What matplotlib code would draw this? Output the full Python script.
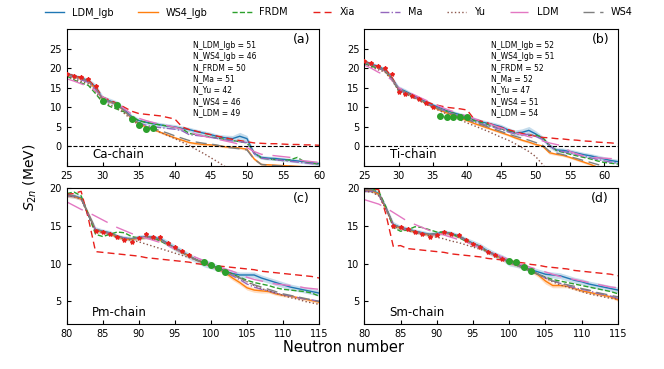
import numpy as np
import matplotlib
matplotlib.use('Agg')
import matplotlib.pyplot as plt

nan = np.nan

# ---------------- Ca chain (panel a) ----------------
ca_n = list(range(25, 61))
ca_ldm_lgb = [18.6, 18.0, 17.5, 16.8, 15.2, 12.2, 11.6, 11.0, 9.4, 7.6,
              6.6, 6.2, 5.8, 5.5, 5.2, 5.0, 4.6, 4.3, 3.8, 3.4,
              3.0, 2.5, 2.2, 2.0, 2.6, 2.0, -1.8, -2.8, -3.0, -3.1,
              -3.3, -3.5, -3.7, -3.9, -4.1, -4.4]
ca_ldm_lgb_err = [0.5, 0.5, 0.5, 0.6, 0.8, 0.8, 0.7, 0.6, 0.6, 0.6,
                  0.6, 0.6, 0.6, 0.6, 0.6, 0.6, 0.6, 0.6, 0.6, 0.6,
                  0.6, 0.6, 0.7, 0.8, 1.0, 0.8, 0.6, 0.5, 0.5, 0.5,
                  0.5, 0.5, 0.5, 0.5, 0.5, 0.5]
ca_ws4_lgb = [18.4, 17.8, 17.3, 16.6, 14.8, 12.0, 11.4, 10.7, 9.0, 7.2,
              5.8, 5.0, 4.4, 3.6, 2.9, 2.2, 1.6, 1.0, 0.7, 0.5,
              0.4, 0.2, -0.1, -0.2, -0.4, -0.7, -3.2, -4.6, -4.7, -4.8,
              -4.9, -5.0, -5.1, -5.2, -5.3, -5.4]
ca_ws4_lgb_err = [0.3, 0.3, 0.3, 0.3, 0.4, 0.4, 0.3, 0.3, 0.3, 0.3,
                  0.3, 0.3, 0.3, 0.3, 0.3, 0.3, 0.3, 0.3, 0.3, 0.3,
                  0.3, 0.3, 0.3, 0.3, 0.3, 0.3, 0.4, 0.3, 0.3, 0.3,
                  0.3, 0.3, 0.3, 0.3, 0.3, 0.3]
ca_frdm = [18.0, 17.0, 16.2, 15.6, 13.5, 11.2, 10.2, 9.5, 8.8, 7.6,
           6.6, 6.1, 5.8, 5.5, 5.2, 4.9, 4.5, 3.3, 3.0, 2.7,
           2.4, 2.1, 1.8, 1.5, 1.2, 0.9, -1.5, -3.0, -3.2, -3.4,
           -3.6, -3.4, -2.8, -4.0, -4.3, -4.5]
ca_xia = [18.6, 18.1, 17.6, 17.0, 15.2, 12.6, 11.8, 11.0, 10.0, 9.0,
          8.4, 8.2, 8.0, 7.8, 7.4, 7.0, 5.0, 4.3, 3.9, 3.4,
          3.0, 2.6, 2.2, 1.8, 1.5, 1.2, 0.9, 0.8, 0.7, 0.7,
          0.6, 0.5, 0.5, 0.4, 0.4, 0.3]
ca_ma = [18.4, 17.7, 17.0, 16.4, 14.6, 12.0, 11.2, 10.6, 9.2, 7.4,
         6.0, 5.4, 5.0, 4.8, 4.6, 4.4, 4.0, 3.0, 2.8, 2.6,
         2.3, 2.0, 1.7, 1.4, 1.2, 1.0, -1.8, -3.0, -3.2, -3.4,
         -3.6, -3.8, -4.0, -4.2, -4.4, -4.6]
ca_yu = [18.0, 17.3, 16.6, 16.0, 14.0, 11.5, 10.6, 9.8, 8.4, 6.8,
         5.5, 4.8, 4.3, 3.6, 2.8, 2.0, 1.1, 0.2, -0.8, -1.8,
         -2.9, -4.0, -5.2, -6.4, nan, nan, nan, nan, nan, nan,
         nan, nan, nan, nan, nan, nan]
ca_ldm = [17.3, 16.7, 16.0, 15.3, 14.2, 12.6, 11.8, 10.9, 9.6, 8.3,
          7.2, 6.6, 6.1, 5.7, 5.3, 4.9, 4.4, 3.6, 3.1, 2.6,
          2.2, 1.8, 1.4, 1.0, 0.5, -0.3, -1.3, -2.0, -2.2, -2.4,
          -2.6, -2.8, -3.4, -3.7, -3.9, -4.1]
ca_ws4 = [18.5, 17.9, 17.4, 16.7, 14.9, 12.1, 11.5, 10.8, 9.1, 7.3,
          6.0, 5.2, 4.6, 4.0, 3.4, 2.7, 2.1, 1.5, 1.1, 0.8,
          0.6, 0.3, -0.2, -0.4, -0.6, -0.9, -3.3, -4.6, -4.8, -4.9,
          -5.0, -5.1, -5.2, -5.3, -5.4, -5.5]
ca_exp_n = [25, 26, 27, 28, 29]
ca_exp = [18.5, 18.0, 17.8, 17.2, 15.4]
ca_new_n = [30, 32, 34, 35, 36, 37]
ca_new = [11.6, 10.7, 7.0, 5.4, 4.5, 4.8]
ca_counts = [51, 46, 50, 51, 42, 46, 49]

# ---------------- Ti chain (panel b) ----------------
ti_n = list(range(25, 63))
ti_ldm_lgb = [21.8, 21.0, 20.5, 19.6, 17.5, 14.9, 14.1, 13.2, 12.3, 11.4,
              10.6, 9.9, 9.2, 8.6, 8.1, 7.6, 6.9, 6.3, 5.9, 5.5,
              5.0, 4.2, 3.5, 3.6, 4.1, 3.2, 2.1, 0.2, -0.9, -1.0,
              -1.3, -1.7, -2.1, -2.4, -2.8, -3.2, -3.6, -3.9]
ti_ldm_lgb_err = [0.5, 0.5, 0.5, 0.5, 0.6, 0.6, 0.6, 0.5, 0.5, 0.5,
                  0.5, 0.5, 0.5, 0.5, 0.5, 0.5, 0.6, 0.6, 0.6, 0.6,
                  0.6, 0.6, 0.7, 0.9, 1.0, 0.8, 0.6, 0.6, 0.6, 0.6,
                  0.6, 0.6, 0.6, 0.6, 0.6, 0.6, 0.6, 0.6]
ti_ws4_lgb = [21.5, 20.8, 20.2, 19.3, 17.2, 14.6, 13.8, 12.9, 12.0, 11.0,
              10.1, 9.3, 8.6, 7.9, 7.3, 6.6, 5.9, 5.3, 4.7, 4.1,
              3.5, 2.9, 2.2, 1.6, 1.1, 0.5, 0.1, -1.6, -2.0, -2.3,
              -2.8, -3.4, -4.0, -4.6, -5.3, -5.9, -6.5, -7.0]
ti_ws4_lgb_err = [0.3, 0.3, 0.3, 0.3, 0.4, 0.4, 0.3, 0.3, 0.3, 0.3,
                  0.3, 0.3, 0.3, 0.3, 0.3, 0.3, 0.3, 0.3, 0.3, 0.3,
                  0.3, 0.3, 0.3, 0.3, 0.3, 0.3, 0.3, 0.4, 0.3, 0.3,
                  0.3, 0.3, 0.3, 0.3, 0.3, 0.3, 0.3, 0.3]
ti_frdm = [21.2, 20.5, 20.0, 19.4, 17.4, 14.2, 13.5, 12.7, 12.0, 11.0,
           10.2, 9.6, 9.0, 8.5, 8.0, 7.5, 6.6, 6.1, 5.6, 5.1,
           4.5, 3.9, 3.4, 3.0, 2.8, 2.9, 2.3, 0.3, -1.0, -1.5,
           -2.0, -2.4, -2.8, -3.2, -3.7, -4.1, -4.3, -4.5]
ti_xia = [21.9, 21.0, 20.4, 20.0, 17.8, 14.5, 13.8, 13.2, 12.3, 11.5,
          10.8, 10.4, 10.0, 9.8, 9.6, 9.3, 7.0, 6.5, 6.0, 5.4,
          4.8, 4.3, 3.8, 3.3, 3.0, 2.6, 2.3, 2.2, 2.0, 1.9,
          1.7, 1.6, 1.4, 1.3, 1.1, 1.0, 0.9, 0.7]
ti_ma = [21.5, 20.8, 20.1, 19.3, 17.2, 14.5, 13.7, 12.9, 12.0, 11.1,
         10.3, 9.6, 8.9, 8.3, 7.7, 7.2, 6.3, 5.8, 5.3, 4.8,
         4.3, 3.7, 3.2, 3.0, 3.1, 2.6, 1.8, 0.2, -1.0, -1.3,
         -1.7, -2.1, -2.5, -2.9, -3.3, -3.7, -4.0, -4.3]
ti_yu = [21.0, 20.3, 19.6, 19.0, 17.0, 14.3, 13.4, 12.6, 11.7, 10.8,
         9.9, 9.1, 8.3, 7.5, 6.8, 6.0, 5.3, 4.6, 3.9, 3.1,
         2.3, 1.6, 0.7, -0.3, -1.3, -2.6, -4.6, -7.0, nan, nan,
         nan, nan, nan, nan, nan, nan, nan, nan]
ti_ldm = [20.8, 20.0, 19.0, 18.2, 17.0, 15.0, 14.2, 13.4, 12.6, 11.8,
          11.0, 10.2, 9.5, 8.9, 8.3, 7.7, 7.1, 6.5, 5.9, 5.3,
          4.7, 4.1, 3.5, 3.0, 2.5, 2.0, 1.4, 0.9, 0.5, 0.1,
          -1.3, -1.9, -2.4, -2.7, -2.9, -3.0, -3.1, -3.2]
ti_ws4 = [21.6, 20.9, 20.3, 19.5, 17.3, 14.7, 13.9, 13.0, 12.1, 11.2,
          10.3, 9.5, 8.8, 8.1, 7.5, 6.9, 6.2, 5.6, 5.0, 4.4,
          3.8, 3.2, 2.6, 2.1, 1.6, 1.0, 0.3, -1.2, -1.7, -2.1,
          -2.6, -3.1, -3.6, -4.1, -4.6, -5.1, -5.6, -6.1]
ti_exp_n = [25, 26, 27, 28, 29, 30, 31, 32, 33, 34, 35]
ti_exp = [21.8, 21.2, 20.5, 20.1, 18.6, 14.0, 13.4, 12.8, 12.0, 11.0, 10.0]
ti_new_n = [36, 37, 38, 39, 40]
ti_new = [7.9, 7.4, 7.5, 7.5, 7.6]
ti_counts = [52, 51, 52, 52, 47, 51, 54]

# ---------------- Pm chain (panel c) ----------------
pm_n = list(range(80, 116))
pm_ldm_lgb = [19.1, 19.0, 18.7, 16.5, 14.5, 14.3, 14.1, 13.6, 13.4, 13.3,
              13.5, 13.6, 13.5, 13.3, 12.7, 12.1, 11.6, 11.0, 10.5, 10.1,
              9.8, 9.4, 9.0, 8.7, 8.5, 8.5, 8.5, 8.1, 7.8, 7.5,
              7.2, 6.9, 6.7, 6.5, 6.3, 6.1]
pm_ldm_lgb_err = [0.3, 0.3, 0.3, 0.4, 0.4, 0.3, 0.3, 0.3, 0.3, 0.3,
                  0.3, 0.3, 0.3, 0.3, 0.4, 0.4, 0.4, 0.4, 0.4, 0.5,
                  0.5, 0.4, 0.4, 0.4, 0.4, 0.4, 0.4, 0.4, 0.4, 0.4,
                  0.4, 0.4, 0.4, 0.4, 0.4, 0.4]
pm_ws4_lgb = [19.0, 18.9, 18.6, 16.6, 14.4, 14.2, 14.0, 13.5, 13.3, 13.2,
              13.4, 13.5, 13.4, 13.1, 12.6, 12.0, 11.5, 11.0, 10.5, 10.1,
              9.7, 9.3, 8.8, 8.1, 7.5, 6.8, 6.5, 6.4, 6.3, 6.0,
              5.8, 5.7, 5.5, 5.3, 5.1, 4.9]
pm_ws4_lgb_err = [0.2, 0.2, 0.2, 0.3, 0.3, 0.2, 0.2, 0.2, 0.2, 0.2,
                  0.2, 0.2, 0.2, 0.2, 0.2, 0.2, 0.2, 0.2, 0.2, 0.2,
                  0.2, 0.2, 0.3, 0.3, 0.3, 0.3, 0.3, 0.3, 0.2, 0.2,
                  0.2, 0.2, 0.2, 0.2, 0.2, 0.2]
pm_frdm = [19.3, 19.5, 19.0, 16.5, 13.9, 13.6, 13.9, 14.2, 14.1, 13.6,
           13.4, 13.5, 13.4, 13.0, 12.5, 12.0, 11.5, 11.0, 10.5, 10.1,
           9.8, 9.4, 9.0, 8.6, 8.2, 7.8, 7.5, 7.3, 7.1, 6.8,
           6.6, 6.5, 6.4, 6.3, 6.1, 5.7]
pm_xia = [19.2, 19.3, 19.6, 16.0, 11.6, 11.5, 11.4, 11.3, 11.2, 11.1,
          11.0, 10.8, 10.7, 10.6, 10.5, 10.4, 10.3, 10.2, 10.0, 9.9,
          9.8, 9.7, 9.6, 9.5, 9.4, 9.3, 9.2, 9.0, 8.9, 8.8,
          8.7, 8.6, 8.5, 8.4, 8.3, 8.1]
pm_ma = [19.0, 18.9, 18.6, 16.5, 14.4, 14.2, 14.0, 13.6, 13.4, 13.3,
         13.4, 13.5, 13.4, 13.1, 12.6, 12.0, 11.5, 11.0, 10.5, 10.1,
         9.7, 9.3, 8.9, 8.4, 7.9, 7.3, 6.9, 6.6, 6.4, 6.1,
         5.9, 5.7, 5.5, 5.3, 5.2, 5.0]
pm_yu = [19.0, 18.9, 18.6, 16.4, 14.3, 14.1, 13.8, 13.5, 13.3, 13.1,
         12.9, 12.6, 12.3, 12.0, 11.7, 11.4, 11.1, 10.8, 10.5, 10.2,
         9.9, 9.5, 9.1, 8.6, 8.1, 7.6, 7.1, 6.7, 6.4, 6.1,
         5.8, 5.5, 5.3, 5.0, 4.8, 4.6]
pm_ldm = [18.2, 17.7, 17.2, 16.8, 16.3, 15.8, 15.3, 14.8, 14.4, 14.0,
          13.7, 13.4, 13.1, 12.8, 12.4, 12.0, 11.6, 11.2, 10.8, 10.4,
          9.9, 9.6, 9.3, 9.0, 8.6, 8.2, 7.9, 7.7, 7.5, 7.3,
          7.2, 7.1, 7.0, 6.8, 6.7, 6.6]
pm_ws4 = [19.1, 19.0, 18.7, 16.6, 14.6, 14.3, 14.1, 13.7, 13.4, 13.3,
          13.5, 13.6, 13.5, 13.2, 12.7, 12.1, 11.6, 11.0, 10.5, 10.1,
          9.7, 9.3, 8.9, 8.5, 8.1, 7.6, 7.2, 6.9, 6.6, 6.3,
          6.0, 5.8, 5.6, 5.4, 5.2, 5.0]
pm_exp_n = [84, 85, 86, 87, 88, 89, 90, 91, 92, 93, 94, 95, 96, 97]
pm_exp = [14.4, 14.2, 14.0, 13.6, 13.2, 12.9, 13.4, 13.9, 13.5, 13.5,
          12.8, 12.2, 11.7, 11.1]
pm_new_n = [99, 100, 101, 102]
pm_new = [10.2, 9.8, 9.4, 8.9]

# ---------------- Sm chain (panel d) ----------------
sm_n = list(range(80, 116))
sm_ldm_lgb = [19.8, 19.8, 19.3, 17.4, 15.2, 14.8, 14.6, 14.3, 14.1, 13.9,
              14.0, 14.2, 14.0, 13.7, 13.2, 12.7, 12.3, 11.7, 11.2, 10.8,
              10.2, 9.9, 9.6, 9.2, 8.9, 8.6, 8.5, 8.4, 8.1, 7.8,
              7.6, 7.3, 7.1, 6.9, 6.7, 6.5]
sm_ldm_lgb_err = [0.3, 0.3, 0.3, 0.4, 0.4, 0.3, 0.3, 0.3, 0.3, 0.3,
                  0.3, 0.3, 0.3, 0.3, 0.3, 0.4, 0.4, 0.4, 0.4, 0.4,
                  0.5, 0.4, 0.4, 0.4, 0.4, 0.4, 0.4, 0.4, 0.4, 0.4,
                  0.4, 0.4, 0.4, 0.4, 0.4, 0.4]
sm_ws4_lgb = [19.7, 19.7, 19.2, 17.3, 15.1, 14.7, 14.5, 14.2, 14.0, 13.8,
              13.9, 14.1, 13.9, 13.6, 13.1, 12.6, 12.2, 11.6, 11.1, 10.7,
              10.1, 9.8, 9.5, 9.1, 8.5, 7.7, 7.1, 7.1, 7.0, 6.7,
              6.4, 6.2, 6.0, 5.8, 5.6, 5.2]
sm_ws4_lgb_err = [0.2, 0.2, 0.2, 0.3, 0.3, 0.2, 0.2, 0.2, 0.2, 0.2,
                  0.2, 0.2, 0.2, 0.2, 0.2, 0.2, 0.2, 0.2, 0.2, 0.2,
                  0.2, 0.2, 0.2, 0.3, 0.3, 0.4, 0.3, 0.3, 0.2, 0.2,
                  0.2, 0.2, 0.2, 0.2, 0.2, 0.2]
sm_frdm = [19.8, 20.0, 19.6, 17.5, 14.8, 14.3, 14.5, 14.9, 14.8, 14.5,
           14.2, 14.2, 14.0, 13.5, 13.0, 12.6, 12.1, 11.6, 11.1, 10.6,
           10.2, 9.8, 9.4, 9.0, 8.6, 8.2, 7.9, 7.7, 7.5, 7.3,
           7.1, 6.9, 6.7, 6.5, 6.3, 6.0]
sm_xia = [19.8, 20.0, 19.8, 16.5, 12.3, 12.4, 12.0, 11.9, 11.8, 11.7,
          11.6, 11.5, 11.3, 11.2, 11.1, 11.0, 10.9, 10.7, 10.6, 10.5,
          10.4, 10.2, 10.1, 9.9, 9.8, 9.6, 9.5, 9.4, 9.3, 9.1,
          9.0, 8.9, 8.8, 8.7, 8.6, 8.4]
sm_ma = [19.6, 19.6, 19.1, 17.3, 15.1, 14.7, 14.5, 14.2, 14.0, 13.8,
         13.9, 14.1, 13.9, 13.6, 13.1, 12.6, 12.2, 11.6, 11.1, 10.7,
         10.1, 9.8, 9.4, 9.0, 8.6, 8.1, 7.7, 7.4, 7.1, 6.8,
         6.6, 6.4, 6.1, 5.9, 5.7, 5.4]
sm_yu = [19.6, 19.5, 19.0, 17.2, 15.0, 14.6, 14.4, 14.1, 13.9, 13.7,
         13.5, 13.3, 13.0, 12.8, 12.5, 12.2, 11.9, 11.6, 11.3, 10.9,
         10.5, 10.1, 9.6, 9.1, 8.6, 8.1, 7.6, 7.2, 6.9, 6.6,
         6.3, 6.0, 5.8, 5.6, 5.4, 5.3]
sm_ldm = [18.5, 18.2, 17.9, 17.4, 16.8, 16.2, 15.6, 15.2, 14.8, 14.4,
          14.1, 13.8, 13.5, 13.2, 12.9, 12.5, 12.1, 11.7, 11.3, 10.9,
          10.5, 10.1, 9.8, 9.5, 9.2, 8.9, 8.6, 8.3, 8.1, 7.9,
          7.7, 7.5, 7.3, 7.1, 6.9, 6.8]
sm_ws4 = [19.8, 19.8, 19.3, 17.4, 15.2, 14.8, 14.6, 14.3, 14.1, 13.9,
          14.0, 14.2, 14.0, 13.7, 13.2, 12.7, 12.3, 11.7, 11.2, 10.8,
          10.2, 9.8, 9.4, 9.0, 8.6, 8.1, 7.7, 7.5, 7.2, 7.0,
          6.7, 6.5, 6.2, 6.0, 5.8, 5.6]
sm_exp_n = [84, 85, 86, 87, 88, 89, 90, 91, 92, 93, 94, 95, 96, 97, 98, 99]
sm_exp = [15.0, 14.9, 14.6, 14.2, 14.0, 13.6, 13.8, 14.2, 13.9, 13.8,
          13.2, 12.6, 12.2, 11.6, 11.2, 10.6]
sm_new_n = [100, 101, 102, 103]
sm_new = [10.4, 10.2, 9.5, 9.0]

labels = ['LDM_lgb', 'WS4_lgb', 'FRDM', 'Xia', 'Ma', 'Yu', 'LDM', 'WS4']
count_labels = ['N_LDM_lgb', 'N_WS4_lgb', 'N_FRDM', 'N_Ma', 'N_Yu', 'N_WS4', 'N_LDM']
styles = [('#1f77b4', '-'), ('#ff7f0e', '-'), ('#2ca02c', '--'),
          ('#e8201c', (0, (5, 3))), ('#9467bd', '-.'), ('#8c564b', ':'),
          ('#e377c2', (0, (13, 7))), ('#7f7f7f', (0, (8, 4)))]

fig = plt.figure(figsize=(6.64, 3.69), dpi=100)
ax_a = fig.add_axes([0.1005, 0.5501, 0.380, 0.3713])
ax_b = fig.add_axes([0.5486, 0.5501, 0.3821, 0.3713])
ax_c = fig.add_axes([0.1005, 0.1220, 0.380, 0.3677])
ax_d = fig.add_axes([0.5486, 0.1220, 0.3821, 0.3677])

panels = [
    (ax_a, ca_n, [ca_ldm_lgb, ca_ws4_lgb, ca_frdm, ca_xia, ca_ma, ca_yu, ca_ldm, ca_ws4],
     ca_ldm_lgb_err, ca_ws4_lgb_err, ca_exp_n, ca_exp, ca_new_n, ca_new, '(a)', 'Ca-chain', ca_counts),
    (ax_b, ti_n, [ti_ldm_lgb, ti_ws4_lgb, ti_frdm, ti_xia, ti_ma, ti_yu, ti_ldm, ti_ws4],
     ti_ldm_lgb_err, ti_ws4_lgb_err, ti_exp_n, ti_exp, ti_new_n, ti_new, '(b)', 'Ti-chain', ti_counts),
    (ax_c, pm_n, [pm_ldm_lgb, pm_ws4_lgb, pm_frdm, pm_xia, pm_ma, pm_yu, pm_ldm, pm_ws4],
     pm_ldm_lgb_err, pm_ws4_lgb_err, pm_exp_n, pm_exp, pm_new_n, pm_new, '(c)', 'Pm-chain', None),
    (ax_d, sm_n, [sm_ldm_lgb, sm_ws4_lgb, sm_frdm, sm_xia, sm_ma, sm_yu, sm_ldm, sm_ws4],
     sm_ldm_lgb_err, sm_ws4_lgb_err, sm_exp_n, sm_exp, sm_new_n, sm_new, '(d)', 'Sm-chain', None),
]

for ax, n, series, err_b, err_o, exp_n, exp, new_n, new, tag, chain, counts in panels:
    n = np.array(n)
    for s, e, c in [(series[0], err_b, styles[0][0]), (series[1], err_o, styles[1][0])]:
        s = np.array(s)
        e = np.array(e)
        ax.fill_between(n, s - e, s + e, color=c, alpha=0.25, lw=0)
    for s, lab, (c, ls) in zip(series, labels, styles):
        ax.plot(n, s, color=c, ls=ls, lw=1.0, label=lab)
    ax.plot(exp_n, exp, '*', color='#e8201c', ms=3, zorder=5)
    ax.plot(new_n, new, 'o', color='#2ca02c', ms=4, zorder=6)

    ax.tick_params(direction='in', length=3, labelsize=7)
    ax.text(0.93, 0.925, tag, transform=ax.transAxes, ha='center', va='center', fontsize=9)
    ax.text(0.10, 0.085, chain, transform=ax.transAxes, ha='left', va='center', fontsize=8.5)
    if counts is not None:
        txt = '\n'.join(f'{k} = {v}' for k, v in zip(count_labels, counts))
        ax.text(0.50, 0.915, txt, transform=ax.transAxes, ha='left', va='top',
                fontsize=5.5, linespacing=1.32)
        ax.axhline(0, color='k', ls='--', lw=0.8)
        ax.set_ylim(-5, 30)
        ax.set_yticks([0, 5, 10, 15, 20, 25])
        ax.set_xticks([25, 30, 35, 40, 45, 50, 55, 60])
    else:
        ax.set_xlim(80, 115)
        ax.set_ylim(2, 20)
        ax.set_yticks([5, 10, 15, 20])
        ax.set_xticks([80, 85, 90, 95, 100, 105, 110, 115])

ax_a.set_xlim(25, 60)
ax_b.set_xlim(25, 62)

handles, labs = ax_a.get_legend_handles_labels()
fig.legend(handles, labs, ncol=8, loc='upper center', bbox_to_anchor=(0.51, 1.005),
           frameon=False, fontsize=7, handlelength=2.0, handletextpad=0.8,
           columnspacing=2.55)

fig.text(0.045, 0.52, r'$S_{2n}$ (MeV)', rotation=90, ha='center', va='center', fontsize=10)
fig.text(0.517, 0.057, 'Neutron number', ha='center', va='center', fontsize=10.5)

fig.savefig('out.png', dpi=100)
